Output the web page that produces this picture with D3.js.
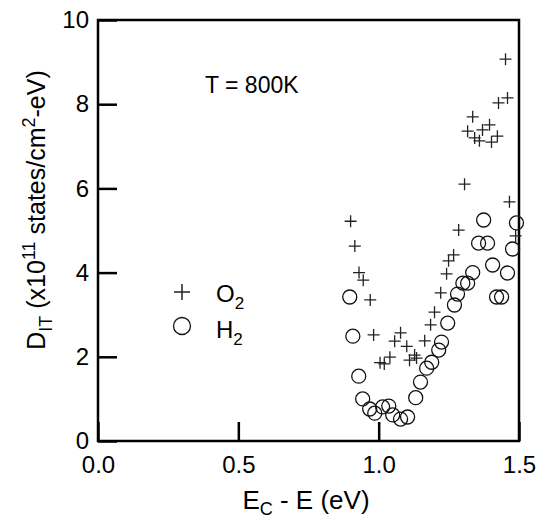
<!DOCTYPE html>
<html>
<head>
<meta charset="utf-8">
<script src="https://cdn.jsdelivr.net/npm/d3@7"></script>
<style>
  body { margin: 0; background: #fff; }
  svg { display: block; font-family: "Liberation Sans", Arial, sans-serif; }
</style>
</head>
<body>
<div id="chart"></div>
<script>
// O2 anneal: (E_C - E, D_IT)
const o2X = [0.90, 0.915, 0.93, 0.945, 0.97, 0.982, 1.005, 1.02, 1.04, 1.057, 1.078, 1.10, 1.11, 1.128, 1.135,
    1.164, 1.185, 1.199, 1.221, 1.242, 1.249, 1.267, 1.285, 1.306, 1.317, 1.335, 1.342, 1.359, 1.37, 1.395,
    1.402, 1.423, 1.427, 1.452, 1.459, 1.466, 1.488];
const o2Y = [5.22, 4.63, 4.00, 3.82, 3.35, 2.52, 1.86, 1.83, 1.99, 2.37, 2.57, 2.25, 1.92, 2.04, 1.97,
    2.38, 2.76, 3.06, 3.52, 3.97, 4.28, 4.42, 5.01, 6.10, 7.36, 7.70, 7.20, 7.13, 7.39, 7.51,
    7.10, 7.24, 8.03, 9.07, 8.15, 5.68, 4.87];

// H2 anneal
const h2X = [0.897, 0.908, 0.929, 0.943, 0.968, 0.986, 1.014, 1.036, 1.05, 1.078, 1.103, 1.132, 1.149, 1.171,
    1.189, 1.214, 1.224, 1.246, 1.27, 1.281, 1.30, 1.317, 1.335, 1.356, 1.374, 1.388, 1.406, 1.42, 1.438,
    1.459, 1.477, 1.491];
const h2Y = [3.42, 2.49, 1.54, 1.00, 0.76, 0.66, 0.81, 0.83, 0.62, 0.52, 0.57, 1.03, 1.40, 1.73,
    1.87, 2.16, 2.35, 2.80, 3.23, 3.49, 3.75, 3.75, 4.00, 4.70, 5.25, 4.70, 4.18, 3.42, 3.42,
    3.99, 4.56, 5.18];

const xTicks = [0, 0.5, 1.0, 1.5];
const yTicks = [0, 2, 4, 6, 8, 10];

const W = 546, H = 521;
const box = {left: 98, right: 519, top: 20, bottom: 441};

const svg = d3.select("#chart").append("svg")
    .attr("width", W)
    .attr("height", H);

const x = d3.scaleLinear().domain([0, 1.5]).range([box.left, box.right]);
const y = d3.scaleLinear().domain([0, 10]).range([box.bottom, box.top]);

const xAxis = svg.append("g")
    .attr("transform", `translate(0,${box.bottom})`)
    .call(d3.axisBottom(x).tickValues(xTicks).tickFormat(d3.format(".1f"))
        .tickSizeInner(-19).tickSizeOuter(0).tickPadding(15));

const yAxis = svg.append("g")
    .attr("transform", `translate(${box.left},0)`)
    .call(d3.axisLeft(y).tickValues(yTicks).tickFormat(d3.format("d"))
        .tickSizeInner(-19).tickSizeOuter(0).tickPadding(9));

[xAxis, yAxis].forEach(a => {
    a.select(".domain").remove();
    a.selectAll(".tick line").attr("stroke", "#000").attr("stroke-width", 2.5);
    a.selectAll(".tick text").attr("fill", "#000").style("font-size", "24px");
});

// frame
svg.append("rect")
    .attr("x", box.left).attr("y", box.top)
    .attr("width", box.right - box.left).attr("height", box.bottom - box.top)
    .attr("fill", "none").attr("stroke", "#000").attr("stroke-width", 2.5);

const o2 = d3.zip(o2X, o2Y);
const h2 = d3.zip(h2X, h2Y);

const plus = (g, cx, cy, s) => g.append("path")
    .attr("d", `M${cx - s},${cy}H${cx + s}M${cx},${cy - s}V${cy + s}`)
    .attr("stroke", "#222").attr("stroke-width", 1.3).attr("fill", "none");

const marks = svg.append("g");
h2.forEach(d => {
    marks.append("circle")
        .attr("cx", x(d[0])).attr("cy", y(d[1])).attr("r", 7)
        .attr("fill", "none").attr("stroke", "#111").attr("stroke-width", 1.3);
});
o2.forEach(d => plus(marks, x(d[0]), y(d[1]), 6));

// annotation
svg.append("text")
    .attr("x", 205).attr("y", 93)
    .style("font-size", "23px")
    .text("T = 800K");

// legend
const leg = svg.append("g");
plus(leg, 182, 292, 8).attr("stroke-width", 1.5);
leg.append("circle").attr("cx", 182).attr("cy", 326).attr("r", 8.5)
    .attr("fill", "none").attr("stroke", "#111").attr("stroke-width", 1.3);

const subText = (g, tx, ty, main, sub) => {
    const t = g.append("text").attr("x", tx).attr("y", ty).style("font-size", "24px");
    t.append("tspan").text(main);
    t.append("tspan").attr("dy", 7).style("font-size", "17px").text(sub);
    return t;
};
subText(leg, 216, 302, "O", "2");
subText(leg, 216, 338, "H", "2");

// x title
const xt = svg.append("text")
    .attr("x", 306).attr("y", 509)
    .attr("text-anchor", "middle")
    .style("font-size", "26px");
xt.append("tspan").text("E");
xt.append("tspan").attr("dy", 6).style("font-size", "18px").text("C");
xt.append("tspan").attr("dy", -6).text(" - E (eV)");

// y title
const yt = svg.append("text")
    .attr("transform", `translate(45,210) rotate(-90)`)
    .attr("text-anchor", "middle")
    .style("font-size", "25px");
yt.append("tspan").text("D");
yt.append("tspan").attr("dy", 7).style("font-size", "18px").text("IT");
yt.append("tspan").attr("dy", -7).text(" (x10");
yt.append("tspan").attr("dy", -10).style("font-size", "18px").text("11");
yt.append("tspan").attr("dy", 10).text(" states/cm");
yt.append("tspan").attr("dy", -10).style("font-size", "18px").text("2");
yt.append("tspan").attr("dy", 10).text("-eV)");
</script>
</body>
</html>
